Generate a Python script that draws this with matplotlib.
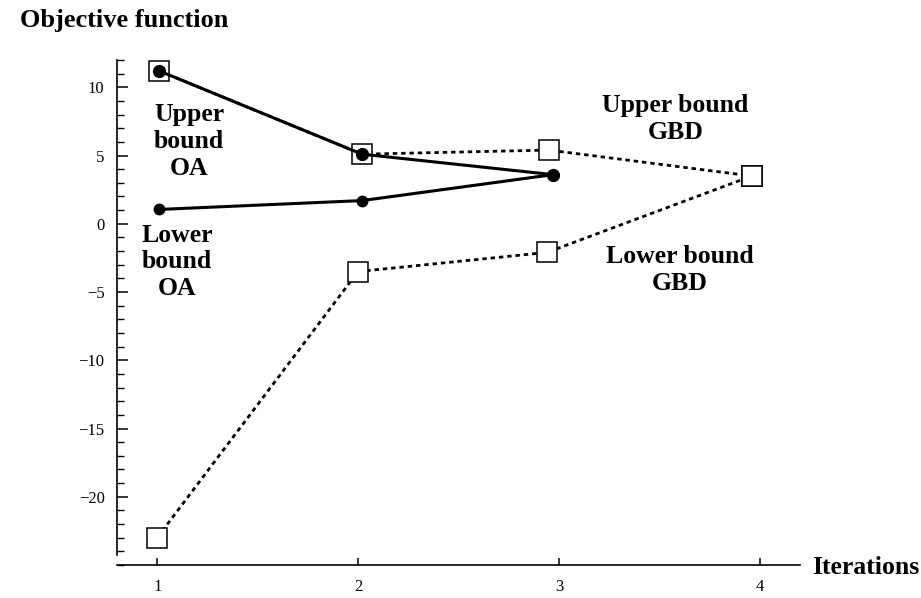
import matplotlib
matplotlib.use("Agg")
import matplotlib.pyplot as plt
from matplotlib.ticker import MultipleLocator

# Data
oa_x = [1.01, 2.02, 2.97]
oa_upper = [11.2, 5.1, 3.6]
oa_lower = [1.05, 1.7, 3.6]

gbd_upper_x = [1.01, 2.02, 2.95, 3.96]
gbd_upper = [11.2, 5.1, 5.4, 3.5]
gbd_lower_x = [1.0, 2.0, 2.94, 3.96]
gbd_lower = [-23.0, -3.5, -2.1, 3.5]

x_ticks = [1, 2, 3, 4]
y_ticks = [-20, -15, -10, -5, 0, 5, 10]

serif = ["Liberation Serif", "DejaVu Serif"]
plt.rcParams["font.family"] = serif

fig = plt.figure(figsize=(9.21, 5.98), dpi=100)
ax = fig.add_axes([117 / 921, 1 - 565 / 598, (800 - 117) / 921, (565 - 60) / 598])

dotted = (0, (1.6, 1.4))
ax.plot(gbd_upper_x, gbd_upper, color="black", lw=2.0, linestyle=dotted, zorder=2)
ax.plot(gbd_lower_x, gbd_lower, color="black", lw=2.0, linestyle=dotted, zorder=2)
ax.plot(gbd_upper_x, gbd_upper, linestyle="none", marker="s", markersize=14,
        markerfacecolor="white", markeredgecolor="black", markeredgewidth=1.1, zorder=3)
ax.plot(gbd_lower_x, gbd_lower, linestyle="none", marker="s", markersize=14,
        markerfacecolor="white", markeredgecolor="black", markeredgewidth=1.1, zorder=3)

ax.plot(oa_x, oa_upper, color="black", lw=2.2, zorder=4, marker="o", markersize=8.5)
ax.plot(oa_x, oa_lower, color="black", lw=2.2, zorder=4, marker="o", markersize=7.5)

ax.set_xlim(0.8, 4.2)
ax.set_ylim(-25, 12)
ax.spines["top"].set_visible(False)
ax.spines["right"].set_visible(False)
ax.spines["left"].set_bounds(-24.3, 12)
ax.spines["left"].set_linewidth(1.2)
ax.spines["bottom"].set_linewidth(1.2)

ax.set_xticks(x_ticks)
ax.set_xticklabels([str(v) for v in x_ticks])
ax.set_yticks(y_ticks)
ax.set_yticklabels([str(v).replace("-", "\u2212") for v in y_ticks])
ax.yaxis.set_minor_locator(MultipleLocator(1))
ax.tick_params(axis="y", which="major", direction="in", length=8, width=1.1,
               labelsize=12, pad=9)
ax.tick_params(axis="y", which="minor", direction="in", length=5, width=1.0)
ax.tick_params(axis="x", which="major", direction="in", length=5, width=1.1,
               labelsize=12, pad=10)

lab = dict(fontsize=18.5, fontweight="bold", ha="center", va="center",
           family=serif, linespacing=1.22)
ax.text(1.16, 6.0, "Upper\nbound\nOA", **lab)
ax.text(1.10, -2.8, "Lower\nbound\nOA", **lab)
ax.text(3.58, 7.65, "Upper bound\nGBD", **lab)
ax.text(3.6, -3.4, "Lower bound\nGBD", **lab)

fig.text(20 / 921, 1 - 21 / 598, "Objective function", fontsize=19,
         fontweight="bold", ha="left", va="center", family=serif)
fig.text(812 / 921, 1 - 567 / 598, "Iterations", fontsize=18.5,
         fontweight="bold", ha="left", va="center", family=serif)

fig.savefig("out.png", dpi=100)
